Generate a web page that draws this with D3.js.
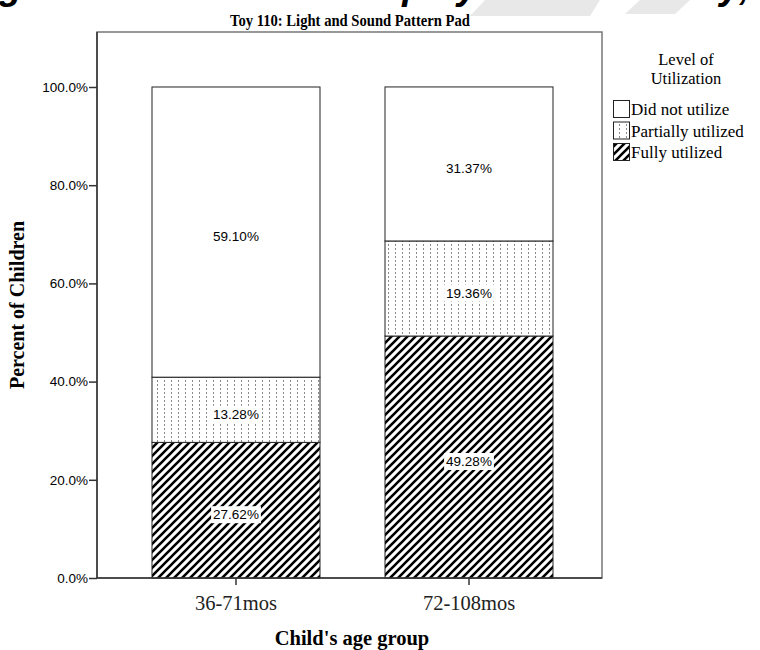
<!DOCTYPE html>
<html><head><meta charset="utf-8">
<script src="https://cdn.jsdelivr.net/npm/d3@7"></script>
<style>body{margin:0;background:#fff}svg{display:block}</style>
</head><body>
<svg id="c" width="760" height="650"></svg>
<script>
const categories = ["36-71mos", "72-108mos"];
const levels = ["Fully utilized", "Partially utilized", "Did not utilize"];
const fully = [27.62, 49.28];
const partially = [13.28, 19.36];
const didNot = [59.10, 31.37];
const yTicks = [0, 20, 40, 60, 80, 100];
const legendOrder = ["Did not utilize", "Partially utilized", "Fully utilized"];

const svg = d3.select("#c");
const serif = "'Liberation Serif','Times New Roman',serif";
const sans = "'Liberation Sans',Arial,sans-serif";

// patterns
const defs = svg.append("defs");
const hatch = defs.append("pattern").attr("id","hatch").attr("patternUnits","userSpaceOnUse")
  .attr("width",8).attr("height",8);
hatch.append("rect").attr("width",8).attr("height",8).attr("fill","#fff");
hatch.append("path").attr("d","M-2,2 L2,-2 M0,8 L8,0 M6,10 L10,6").attr("stroke","#000").attr("stroke-width",2.6);
const dots = defs.append("pattern").attr("id","dots").attr("patternUnits","userSpaceOnUse")
  .attr("width",7).attr("height",4);
dots.append("rect").attr("width",7).attr("height",4).attr("fill","#fff");
dots.append("rect").attr("x",3).attr("y",0).attr("width",1).attr("height",2).attr("fill","#8a8a8a");
const fills = {"Fully utilized":"url(#hatch)","Partially utilized":"url(#dots)","Did not utilize":"#fff"};

// cut-off heading at very top
svg.append("polygon").attr("points","485,0 600,0 590,16 470,16").attr("fill","#e8e8e8");
svg.append("polygon").attr("points","640,0 690,0 675,14 625,14").attr("fill","#e8e8e8");
const head = svg.append("text").attr("y",-1).attr("font-family",sans).attr("font-weight","bold")
  .attr("font-style","italic").attr("font-size",38).attr("fill","#000");
head.append("tspan").attr("x",-35).text("Fig");
head.append("tspan").attr("x",343).text("Display");
head.append("tspan").attr("x",652).text("Fully,");

const y = d3.scaleLinear().domain([0, 111.2]).range([578, 32]);
const x = d3.scaleBand().domain(categories).range([104, 601]).paddingInner(0.279).paddingOuter(0.206);

// frame
svg.append("rect").attr("x",97).attr("y",32).attr("width",505).attr("height",546)
  .attr("fill","none").attr("stroke","#777").attr("stroke-width",1.5);

// stacked data
const rows = categories.map((c,i)=>({cat:c,"Fully utilized":fully[i],"Partially utilized":partially[i],"Did not utilize":didNot[i]}));
const stack = d3.stack().keys(levels)(rows);

stack.forEach(layer=>{
  layer.forEach((d,i)=>{
    svg.append("rect").attr("x",x(categories[i])).attr("y",y(d[1]))
      .attr("width",x.bandwidth()).attr("height",y(d[0])-y(d[1]))
      .attr("fill",fills[layer.key]).attr("stroke","#222").attr("stroke-width",1);
  });
});
stack.forEach(layer=>{
  layer.forEach((d,i)=>{
    const cx = x(categories[i]) + x.bandwidth()/2;
    const cy = (y(d[0])+y(d[1]))/2;
    const label = d.data[layer.key].toFixed(2) + "%";
    const t = svg.append("text").attr("x",cx).attr("y",cy+9).attr("text-anchor","middle")
      .attr("font-family",sans).attr("font-size",13.5).attr("fill","#000").text(label);
    const bb = t.node().getBBox();
    svg.insert("rect", () => t.node()).attr("x",bb.x-2).attr("y",bb.y-1).attr("width",bb.width+4).attr("height",bb.height+2).attr("fill","#fff");
  });
});

// y axis
const yAxis = svg.append("g").attr("transform","translate(97,0)")
  .call(d3.axisLeft(y).tickValues(yTicks).tickSize(8).tickFormat(d=>d.toFixed(1)+"%"));
yAxis.select(".domain").attr("d","M0,32V578").attr("stroke","#333").attr("stroke-width",1.5);
yAxis.selectAll(".tick line").attr("stroke","#333").attr("stroke-width",1.5);
yAxis.selectAll(".tick text").attr("font-family",sans).attr("font-size",13.5).attr("fill","#000").attr("x",-9);

// x axis
const xAxis = svg.append("g").attr("transform","translate(0,578)")
  .call(d3.axisBottom(x).tickSize(7).tickPadding(10));
xAxis.select(".domain").attr("d","M97,0H602").attr("stroke","#333").attr("stroke-width",1.5);
xAxis.selectAll(".tick line").attr("stroke","#333").attr("stroke-width",1.5);
xAxis.selectAll(".tick text").attr("font-family",serif).attr("font-size",20.5).attr("fill","#222");

// titles
svg.append("text").attr("x",350).attr("y",26).attr("text-anchor","middle").attr("font-family",serif)
  .attr("font-weight","bold").attr("font-size",16.5).attr("textLength",240).attr("lengthAdjust","spacingAndGlyphs")
  .text("Toy 110: Light and Sound Pattern Pad");
svg.append("text").attr("x",352).attr("y",645).attr("text-anchor","middle").attr("font-family",serif)
  .attr("font-weight","bold").attr("font-size",20.5).text("Child's age group");
svg.append("text").attr("transform","translate(24,305) rotate(-90)").attr("text-anchor","middle")
  .attr("font-family",serif).attr("font-weight","bold").attr("font-size",20).text("Percent of Children");

// legend
svg.append("text").attr("x",686).attr("y",65).attr("text-anchor","middle").attr("font-family",serif)
  .attr("font-size",16.5).text("Level of");
svg.append("text").attr("x",686).attr("y",84).attr("text-anchor","middle").attr("font-family",serif)
  .attr("font-size",16.5).text("Utilization");
legendOrder.forEach((k,i)=>{
  const ly = 100 + i*21.5;
  svg.append("rect").attr("x",613.5).attr("y",ly+0.5).attr("width",16).attr("height",17)
    .attr("fill",fills[k]).attr("stroke","#222").attr("stroke-width",1);
  svg.append("text").attr("x",631).attr("y",ly+15).attr("font-family",serif).attr("font-size",17).text(k);
});
</script>
</body></html>
